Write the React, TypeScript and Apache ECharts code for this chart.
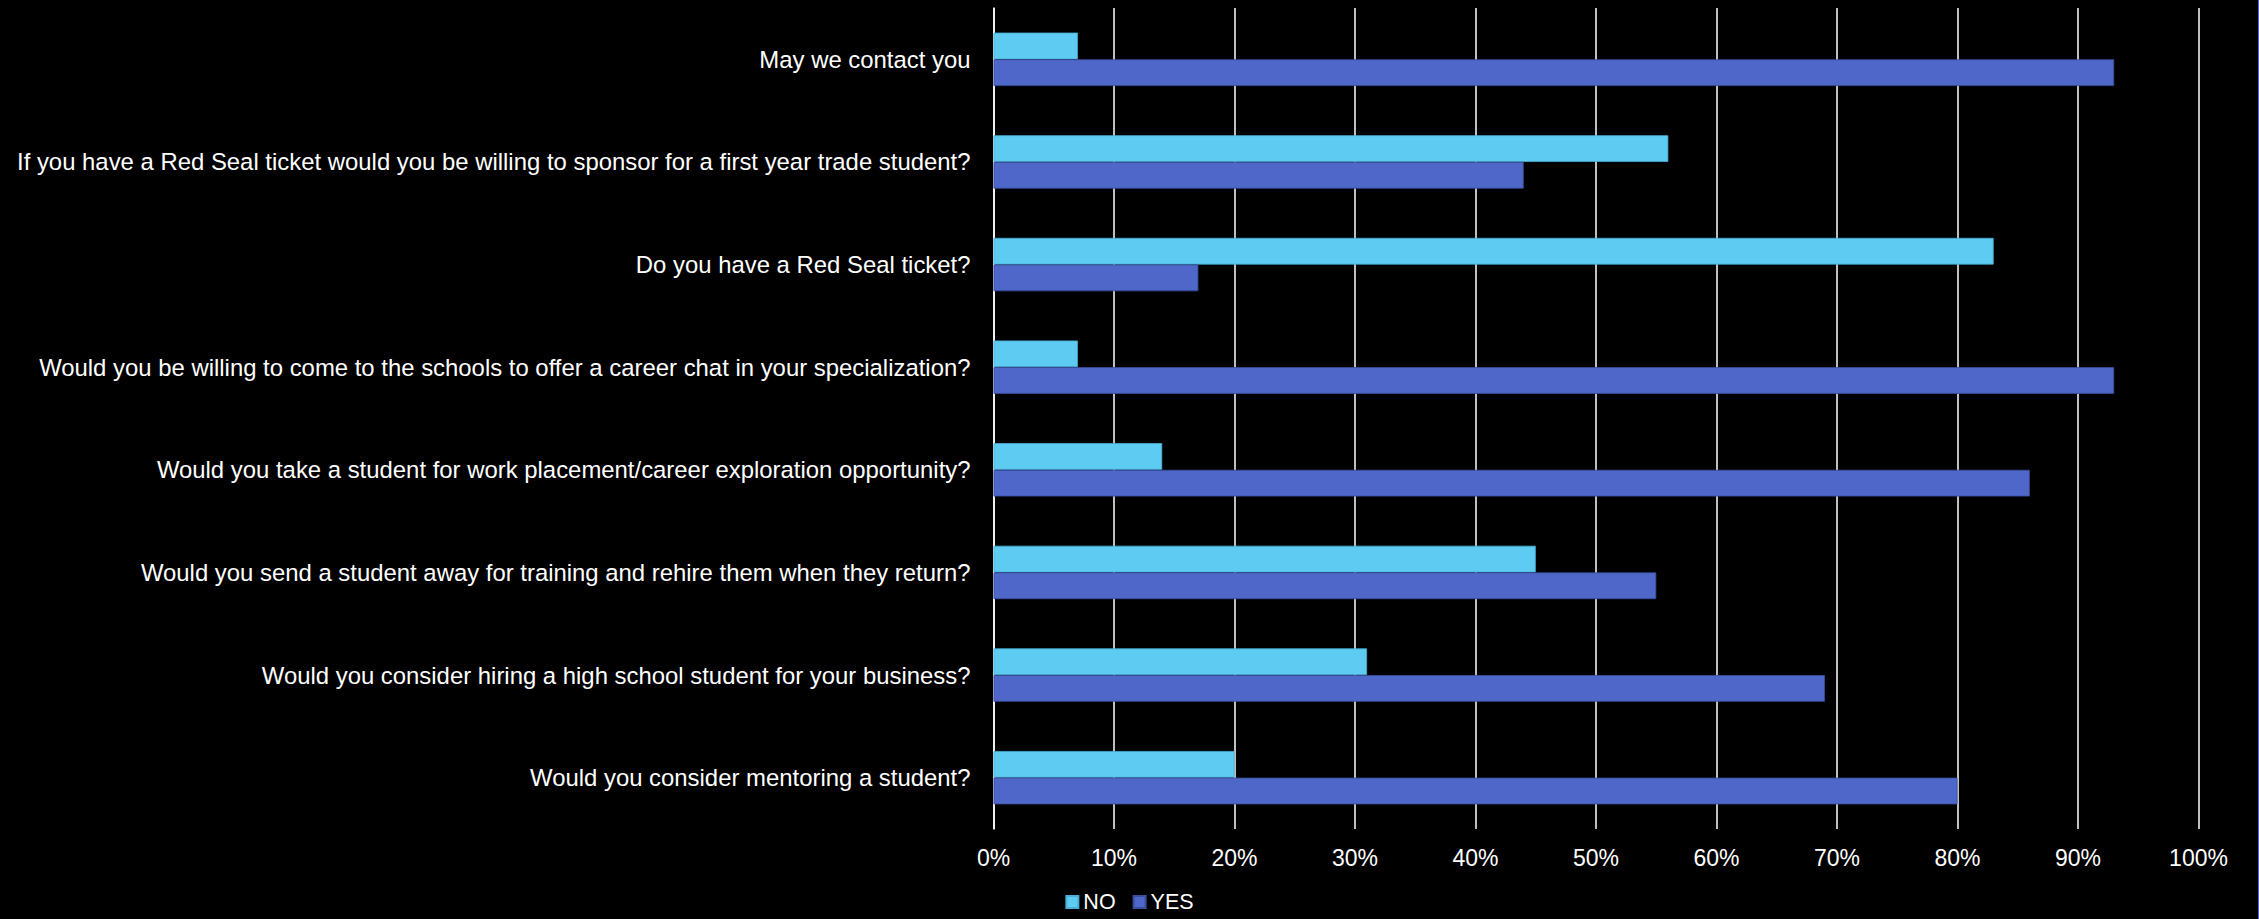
import React, { useEffect, useRef } from "react";
import * as echarts from "echarts";

const categories = [
  "May we contact you",
  "If you have a Red Seal ticket would you be willing to sponsor for a first year trade student?",
  "Do you have a Red Seal ticket?",
  "Would you be willing to come to the schools to offer a career chat in your specialization?",
  "Would you take a student for work placement/career exploration opportunity?",
  "Would you send a student away for training and rehire them when they return?",
  "Would you consider hiring a high school student for your business?",
  "Would you consider mentoring a student?",
];

const noValues = [7, 56, 83, 7, 14, 45, 31, 20];
const yesValues = [93, 44, 17, 93, 86, 55, 69, 80];

const seriesNames = ["NO", "YES"];
const tickMax = 100;
const tickInterval = 10;

const FONT = "'Liberation Sans', Arial, Helvetica, sans-serif";

export default function App() {
  const ref = useRef<HTMLDivElement>(null);

  useEffect(() => {
    if (!ref.current) return;
    const chart = echarts.init(ref.current, null, { renderer: "svg" });
    chart.setOption({
      animation: false,
      backgroundColor: "#000000",
      grid: {
        left: 993.5,
        right: 60.5,
        top: 8,
        bottom: 90,
        containLabel: false,
      },
      legend: {
        data: seriesNames,
        left: "center",
        top: 891,
        padding: 0,
        icon: "rect",
        itemWidth: 12,
        itemHeight: 12,
        itemGap: 17,
        textStyle: { color: "#ffffff", fontSize: 21.5, lineHeight: 22, fontFamily: FONT },
      },
      xAxis: {
        type: "value",
        min: 0,
        max: tickMax,
        interval: tickInterval,
        axisLine: { show: false },
        axisTick: { show: false },
        splitLine: { show: true, lineStyle: { color: "#ffffff", width: 1.5 } },
        axisLabel: {
          color: "#ffffff",
          fontSize: 23,
          fontFamily: FONT,
          margin: 17,
          formatter: (v: number) => `${v}%`,
        },
      },
      yAxis: {
        type: "category",
        data: categories,
        inverse: true,
        axisLine: { show: true, lineStyle: { color: "#ffffff", width: 1.5 } },
        axisTick: { show: false },
        splitLine: { show: false },
        axisLabel: {
          color: "#ffffff",
          fontSize: 23.9,
          fontFamily: FONT,
          margin: 23,
        },
      },
      series: [
        {
          name: seriesNames[0],
          type: "bar",
          data: noValues,
          barGap: "0%",
          barCategoryGap: "48%",
          itemStyle: { color: "#5DCBF2", borderColor: "#4aaed6", borderWidth: 0.8 },
        },
        {
          name: seriesNames[1],
          type: "bar",
          data: yesValues,
          barGap: "0%",
          barCategoryGap: "48%",
          itemStyle: { color: "#4F67C8", borderColor: "#3a4e9e", borderWidth: 0.8 },
        },
      ],
      graphic: [
        {
          type: "line",
          shape: { x1: 2258.5, y1: 0, x2: 2258.5, y2: 919 },
          style: { stroke: "#4F67C8", lineWidth: 1 },
        },
      ],
    });
    return () => chart.dispose();
  }, []);

  return (
    <div
      ref={ref}
      style={{ position: "fixed", left: 0, top: 0, width: 2259, height: 919 }}
    />
  );
}
